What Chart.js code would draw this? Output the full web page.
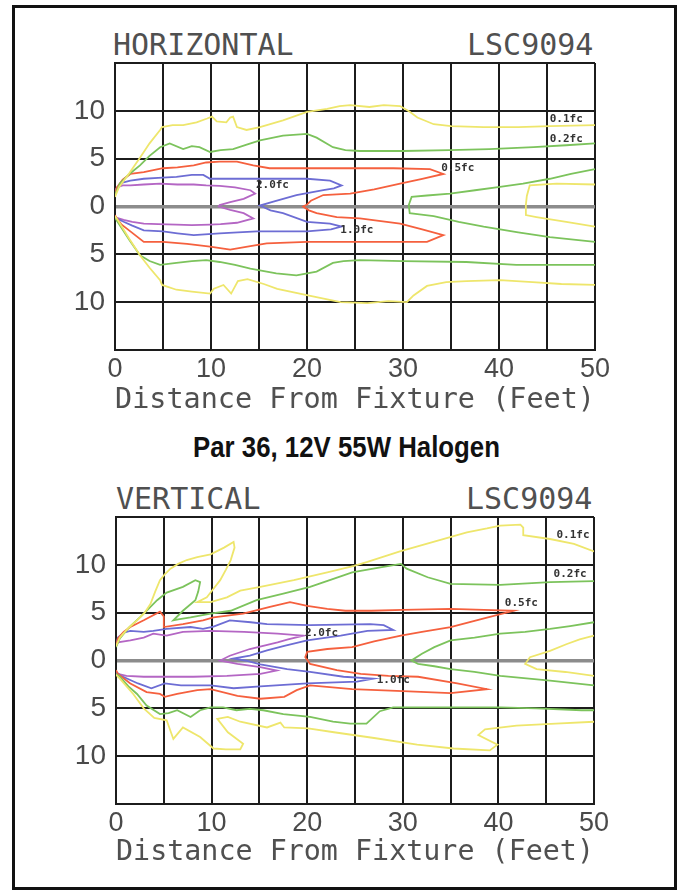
<!DOCTYPE html>
<html>
<head>
<meta charset="utf-8">
<script src="https://cdn.jsdelivr.net/npm/chart.js@4.4.1/dist/chart.umd.min.js"></script>
<style>
  html, body { margin: 0; padding: 0; background: #fff; }
  body { width: 683px; height: 890px; position: relative; overflow: hidden; }
  .frame { position: absolute; left: 12px; top: 5px; width: 665px; height: 885px; box-sizing: border-box; border: 3px solid #111; }
  .ttl { position: absolute; font-family: "DejaVu Sans Mono", monospace; font-size: 30px; line-height: 30px; color: #505050; white-space: nowrap; }
  .sub { position: absolute; left: 0; width: 693px; top: 432px; text-align: center; font-family: "Liberation Sans Narrow", "Liberation Sans", Arial, sans-serif; font-weight: bold; font-size: 29px; line-height: 30px; color: #111; transform: scaleX(0.89); transform-origin: 346.5px 0; }
  canvas { position: absolute; left: 0; }
</style>
</head>
<body>
<div class="frame"></div>
<div class="ttl" style="left:113px; top:30px;">HORIZONTAL</div>
<div class="ttl" style="left:467px; top:30px;">LSC9094</div>
<div class="sub">Par 36, 12V 55W Halogen</div>
<div class="ttl" style="left:116px; top:484px;">VERTICAL</div>
<div class="ttl" style="left:466px; top:484px;">LSC9094</div>
<canvas id="hChart" width="683" height="375" style="top:50px;"></canvas>
<canvas id="vChart" width="683" height="380" style="top:505px;"></canvas>
<script>
// tick labels
var xTickLabels = ['0', '', '10', '', '20', '', '30', '', '40', '', '50'];
var yTickLabels = ['', '10', '5', '0', '5', '10', ''];
var levels = ['0.1fc', '0.2fc', '0.5fc', '1.0fc', '2.0fc'];

// HORIZONTAL contours [feet, feet]
var hYellowUp = [[0,1.0],[0.4,2.0],[1.5,3.5],[2.6,5.1],[3.6,6.6],[4.7,8.0],[4.9,8.3],[6.0,8.5],[7.1,8.5],[8.5,8.8],[9.6,9.2],[10.1,9.4],[10.6,8.9],[11.6,8.8],[12.0,9.3],[12.3,9.4],[12.7,8.3],[13.7,8.0],[15.1,8.3],[17.5,9.0],[20.0,9.9],[22.1,10.2],[23.4,10.5],[24.5,10.6],[26.5,10.4],[28.0,10.6],[29.7,10.5],[30.7,9.9],[31.5,9.3],[33.2,8.6],[35.0,8.4],[38.4,8.3],[42.0,8.3],[45.3,8.4],[50,8.5]];
var hYellowLo = [[0,-1.0],[0.4,-1.6],[1.5,-3.4],[2.6,-5.1],[3.6,-6.4],[4.7,-7.7],[4.9,-8.2],[6.4,-8.7],[8.0,-8.9],[9.9,-9.1],[10.3,-8.6],[11.3,-8.2],[12.1,-9.1],[12.8,-7.8],[13.8,-7.6],[15.5,-8.1],[16.9,-8.6],[20.1,-9.3],[23.5,-10.0],[26.3,-10.1],[28.5,-9.9],[30.4,-10.0],[31.1,-9.3],[32.5,-8.3],[34.5,-7.9],[36.6,-7.8],[40.1,-7.7],[43.5,-7.9],[46.5,-8.1],[50,-8.2]];
var hYellowIn = [[50,2.3],[46,2.4],[43.2,2.2],[42.9,1.1],[42.8,0.2],[42.8,-0.9],[43.9,-1.1],[47,-1.6],[50,-2.1]];
var hGreenUp = [[0,1.2],[0.5,2.4],[1.5,3.4],[2.6,4.3],[3.6,5.3],[4.7,6.2],[5.7,6.6],[7.1,6.0],[8.0,6.3],[8.8,6.2],[9.9,5.7],[11.0,5.9],[12.3,6.0],[13.8,6.5],[15.1,6.9],[17.5,7.4],[20.0,7.6],[21.0,7.2],[22.7,6.2],[24.0,5.9],[25.5,5.8],[30.0,5.8],[34.8,5.9],[39.0,6.0],[43.6,6.2],[47.0,6.4],[50,6.6]];
var hGreenLo = [[0,-1.2],[0.4,-1.8],[1.5,-3.5],[2.6,-5.1],[3.6,-5.7],[4.7,-6.1],[6.4,-5.9],[8.0,-5.7],[9.5,-5.6],[10.9,-5.8],[12.5,-6.1],[14.1,-6.5],[16.8,-7.0],[18.9,-7.2],[21.0,-6.8],[22.7,-5.9],[23.8,-5.7],[25.5,-5.6],[30.0,-5.7],[36.6,-5.8],[41.8,-6.1],[50,-6.1]];
var hGreenIn = [[50,3.9],[47.5,3.4],[45.3,2.9],[42.5,2.4],[40.1,2.05],[37.5,1.7],[34.9,1.35],[32.5,1.15],[30.9,1.0],[30.6,0.15],[30.7,-0.7],[31.5,-0.8],[33.2,-1.0],[35.8,-1.6],[38.4,-2.1],[42.0,-2.7],[45.3,-3.2],[50,-3.7]];
var hRed = [[0,1.3],[0.2,2.0],[0.8,2.8],[1.6,3.4],[3.0,3.6],[5.0,4.0],[6.5,4.1],[8.2,4.3],[9.5,4.6],[10.9,4.7],[12.7,4.7],[14.4,4.3],[16.1,4.0],[20.0,4.0],[25.0,4.0],[29.0,4.0],[32.8,3.9],[34.2,3.4],[32.0,2.9],[29.7,2.4],[27.0,1.8],[24.5,1.35],[21.7,1.2],[20.4,0.6],[20.0,0.2],[19.6,0],[20.2,-0.4],[21.0,-0.7],[23.1,-1.1],[25.5,-1.25],[27.5,-1.5],[29.7,-1.8],[32.0,-2.4],[34.2,-3.0],[32.5,-3.7],[28.0,-3.7],[24.5,-3.7],[20.0,-3.7],[15.8,-3.85],[13.8,-4.2],[12.0,-4.5],[9.9,-4.2],[7.5,-3.9],[5.0,-3.7],[3.0,-3.7],[1.6,-2.6],[0.7,-1.9],[0.2,-1.25],[0,-0.9]];
var hBlue = [[0,1.4],[0.2,1.9],[0.8,2.5],[1.6,2.7],[3.0,2.9],[4.5,3.0],[6.4,3.1],[8.0,3.3],[9.2,3.3],[9.9,2.9],[12.0,2.9],[14.8,2.9],[17.5,2.9],[20.0,2.9],[22.4,2.7],[23.6,2.2],[22.8,1.9],[21.7,1.7],[18.9,1.2],[16.5,0.5],[15.1,0.1],[16.2,-0.4],[17.5,-0.7],[20.0,-1.6],[22.4,-1.8],[23.6,-2.1],[22.5,-2.4],[20.0,-2.6],[17.5,-2.6],[14.8,-2.6],[12.8,-2.7],[10.9,-2.8],[8.2,-3.0],[6.5,-2.8],[5.0,-2.6],[3.0,-2.5],[1.8,-2.0],[0.9,-1.6],[0.2,-1.25],[0,-1.0]];
var hPurple = [[0,1.6],[0.2,2.0],[0.8,2.2],[1.6,2.2],[3.0,2.3],[4.7,2.4],[6.5,2.3],[8.2,2.3],[9.5,2.2],[10.9,2.15],[12.5,2.0],[14.1,1.7],[14.6,1.35],[13.4,0.8],[12.0,0.45],[10.9,0.15],[10.8,0],[12.0,-0.35],[13.4,-0.7],[14.4,-1.25],[12.7,-1.7],[11.0,-1.85],[9.9,-1.9],[8.0,-1.95],[6.4,-1.9],[4.5,-1.85],[3.0,-1.8],[1.8,-1.6],[0.9,-1.4],[0.2,-1.2],[0,-1.0]];
var hLabelX = [47.0, 47.0, 35.7, 25.2, 16.4];
var hLabelY = [9.1, 7.0, 4.0, -2.5, 2.2];

// VERTICAL contours
var vYellowUp = [[0,1.5],[0.4,2.4],[1.3,3.4],[2.2,4.2],[3.0,5.0],[3.6,5.9],[4.1,7.2],[4.6,8.4],[5.1,9.0],[5.7,9.6],[6.5,10.1],[7.4,10.5],[8.5,10.8],[9.9,11.1],[11.3,11.8],[12.3,12.4],[12.4,11.8],[12.0,10.5],[11.5,9.5],[10.9,8.4],[10.2,7.5],[9.5,6.6],[8.5,6.1],[9.9,6.1],[11.6,6.6],[13.0,7.3],[15.1,7.7],[18.6,8.4],[22.1,9.2],[24.9,9.9],[26.3,10.3],[29.7,11.4],[33.2,12.4],[36.7,13.4],[38.8,13.8],[40.2,14.1],[42.3,14.2],[42.6,13.9],[42.6,13.1],[45.4,12.7],[47.9,12.2],[50,11.4]];
var vYellowLo = [[0,-1.5],[0.4,-1.9],[1.8,-3.5],[2.9,-5.0],[4.0,-6.0],[5.3,-6.25],[6.0,-8.2],[7.0,-7.0],[8.8,-8.0],[10.2,-9.2],[11.5,-9.3],[13.0,-9.3],[13.3,-8.7],[11.7,-7.5],[10.6,-6.1],[11.7,-5.9],[13.0,-6.4],[15.8,-7.0],[17.2,-6.5],[17.6,-7.0],[20.1,-7.1],[22.8,-7.5],[27.0,-8.1],[31.5,-8.8],[35.3,-9.2],[39.1,-9.4],[39.9,-8.8],[37.9,-7.8],[38.6,-7.2],[41.9,-6.8],[46,-6.6],[50,-6.4]];
var vYellowIn = [[50,2.6],[48.5,2.2],[47.1,1.7],[45.4,1.0],[43.3,0.35],[42.8,-0.35],[44.0,-0.9],[47.0,-1.2],[50,-1.6]];
var vGreenUp = [[0,1.4],[0.4,2.3],[1.4,3.5],[2.5,4.5],[3.4,5.4],[4.3,6.3],[5.3,7.1],[7.0,7.7],[8.3,8.4],[8.8,8.2],[8.6,7.2],[8.3,6.3],[7.0,5.2],[6.0,4.2],[6.5,4.3],[7.8,4.5],[9.9,4.9],[12.0,5.2],[14.7,6.3],[17.5,7.0],[20.3,7.7],[23.8,8.9],[24.7,9.2],[27.5,9.7],[29.8,10.1],[30.4,9.6],[32.6,8.7],[35.0,8.0],[40.2,7.9],[45.4,8.2],[50,8.3]];
var vGreenLo = [[0,-1.4],[0.4,-1.7],[1.3,-2.7],[2.2,-3.5],[3.2,-4.7],[4.6,-5.6],[5.5,-5.5],[6.4,-5.2],[7.8,-5.9],[8.8,-5.2],[9.9,-4.9],[11.2,-4.9],[12.6,-5.2],[14.0,-5.05],[15.4,-5.2],[17.5,-5.6],[20.3,-5.9],[22.7,-6.4],[24.5,-6.6],[26.2,-6.6],[27.6,-5.3],[29.0,-4.9],[35.0,-4.9],[40.2,-4.9],[44.0,-5.0],[48.7,-5.2],[50,-5.2]];
var vGreenIn = [[50,4.0],[47.5,3.6],[45.4,3.3],[42.8,3.0],[40.2,2.8],[37.5,2.4],[35.0,2.1],[33.3,1.4],[32.0,0.7],[30.9,0],[31.6,-0.35],[33.3,-0.6],[35.0,-0.9],[37.5,-1.2],[40.2,-1.6],[45.4,-2.1],[50,-2.6]];
var vRed = [[0,1.5],[0.2,2.3],[0.8,3.0],[1.5,3.5],[2.9,4.2],[4.6,5.1],[5.0,4.6],[5.0,3.5],[7.0,3.8],[9.1,4.2],[10.2,4.5],[13.3,4.9],[16.1,5.6],[18.2,6.1],[20.0,5.7],[22.1,5.4],[24,5.2],[26.7,5.2],[30,5.3],[35.0,5.4],[38.5,5.3],[41.6,5.2],[38.5,4.4],[35.0,3.5],[32,3.0],[29.8,2.6],[27,2.0],[24.7,1.4],[22.1,1.2],[20.0,0.9],[19.8,0.35],[20.3,-0.35],[23.1,-1.0],[25.6,-1.4],[28.5,-1.6],[31.6,-1.7],[35.7,-2.4],[38.8,-3.0],[35.0,-3.4],[30,-3.2],[24.7,-3.0],[20.3,-2.6],[18.9,-3.1],[17.6,-3.8],[15.1,-4.0],[12.7,-3.7],[9.9,-3.0],[8.5,-3.1],[6.4,-3.5],[5.1,-3.8],[4.6,-3.5],[3.2,-3.3],[1.5,-2.4],[0.2,-1.4],[0,-1.0]];
var vBlue = [[0,1.5],[0.2,2.4],[0.8,2.9],[1.5,3.1],[2.9,3.0],[3.9,3.1],[5.3,3.3],[7.8,3.5],[9.1,3.3],[10.2,3.55],[11.9,4.2],[14.1,4.0],[15.8,3.8],[20.3,3.7],[26.6,3.8],[28.0,3.7],[29.0,3.2],[26.3,3.1],[23.5,2.6],[20.0,2.1],[17.5,1.5],[15.8,1.05],[14.0,0.5],[12.3,0.2],[13.5,0],[15.1,-0.4],[17.9,-0.9],[20.3,-1.2],[23.8,-1.7],[26.9,-1.9],[25.2,-2.2],[20.0,-2.4],[15.1,-2.7],[12.3,-2.9],[9.9,-2.6],[6.8,-2.6],[5.1,-2.4],[3.7,-2.9],[2.3,-2.4],[0.5,-1.6],[0,-1.2]];
var vPurple = [[0,1.5],[0.2,1.9],[1.5,2.1],[2.9,2.4],[3.9,2.8],[5.3,2.6],[7.0,3.0],[9.9,3.1],[13.4,3.0],[16.9,2.8],[19.6,2.6],[18,2.2],[16.9,1.9],[14.0,1.2],[11.9,0.5],[10.9,0],[12.7,-0.35],[15.1,-0.7],[16.8,-1.05],[15.1,-1.4],[11.6,-1.6],[8.1,-1.7],[5.7,-1.7],[2.9,-1.7],[1.1,-1.6],[0.2,-1.4],[0,-1.2]];
var vLabelX = [47.8, 47.5, 42.4, 29.0, 21.5];
var vLabelY = [13.1, 9.0, 6.0, -2.1, 2.9];

var yellow = '#eee66c', green = '#7cc35c', red = '#f5603e', blue = '#6d6dd4', purple = '#b466c4';

function line(pts, color) {
  return {
    data: pts.map(function (p) { return { x: p[0], y: p[1] }; }),
    borderColor: color, borderWidth: 1.8, showLine: true, fill: false,
    pointRadius: 0, tension: 0
  };
}

var levelLabels = {
  id: 'levelLabels',
  afterDatasetsDraw: function (chart, args, opts) {
    var ctx = chart.ctx, xs = chart.scales.x, ys = chart.scales.y;
    ctx.save();
    ctx.font = 'bold 11px "DejaVu Sans Mono"';
    ctx.fillStyle = '#333';
    ctx.textAlign = 'center';
    ctx.textBaseline = 'middle';
    levels.forEach(function (t, i) {
      ctx.fillText(t, xs.getPixelForValue(opts.xs[i]), ys.getPixelForValue(opts.ys[i]));
    });
    ctx.restore();
  }
};

function makeChart(id, datasets, lx, ly, pad, yW, xH, titlePad) {
  var ctx = document.getElementById(id).getContext('2d');
  return new Chart(ctx, {
    type: 'scatter',
    data: { datasets: datasets },
    options: {
      responsive: false,
      animation: false,
      layout: { padding: pad },
      plugins: { legend: { display: false }, tooltip: { enabled: false }, levelLabels: { xs: lx, ys: ly } },
      scales: {
        x: {
          type: 'linear', min: 0, max: 50,
          afterFit: function (s) { s.height = xH; s.paddingLeft = 0; s.paddingRight = 0; },
          ticks: {
            stepSize: 5, autoSkip: false, maxRotation: 0, padding: 3,
            font: { family: '"Liberation Sans", Arial, sans-serif', size: 27 },
            color: '#4a4a4a',
            callback: function (v, i) { return xTickLabels[i]; }
          },
          grid: { color: '#1c1c1c', lineWidth: 2, drawTicks: false },
          border: { color: '#1c1c1c', width: 2 },
          title: {
            display: true, text: 'Distance From Fixture (Feet)', color: '#505050',
            font: { family: '"DejaVu Sans Mono", monospace', size: 29 },
            padding: { top: 0, bottom: titlePad }
          }
        },
        y: {
          type: 'linear', min: -15, max: 15,
          afterFit: function (s) { s.width = yW; s.paddingTop = 0; s.paddingBottom = 0; },
          ticks: {
            stepSize: 5, autoSkip: false, padding: 10,
            font: { family: '"Liberation Sans", Arial, sans-serif', size: 28 },
            color: '#4a4a4a',
            callback: function (v, i) { return yTickLabels[i]; }
          },
          grid: {
            drawTicks: false,
            color: function (c) { return c.tick && c.tick.value === 0 ? '#8c8c8c' : '#1c1c1c'; },
            lineWidth: function (c) { return c.tick && c.tick.value === 0 ? 3.5 : 2; }
          },
          border: { color: '#1c1c1c', width: 2 }
        }
      }
    },
    plugins: [levelLabels]
  });
}

makeChart('hChart', [
  line(hYellowUp, yellow), line(hYellowLo, yellow), line(hYellowIn, yellow),
  line(hGreenUp, green), line(hGreenLo, green), line(hGreenIn, green),
  line(hRed, red), line(hBlue, blue), line(hPurple, purple)
], hLabelX, hLabelY, { left: 0, right: 88, top: 13, bottom: 0 }, 115, 75, 7);

makeChart('vChart', [
  line(vYellowUp, yellow), line(vYellowLo, yellow), line(vYellowIn, yellow),
  line(vGreenUp, green), line(vGreenLo, green), line(vGreenIn, green),
  line(vRed, red), line(vBlue, blue), line(vPurple, purple)
], vLabelX, vLabelY, { left: 0, right: 89, top: 12, bottom: 0 }, 116, 81, 15);
</script>
</body>
</html>
